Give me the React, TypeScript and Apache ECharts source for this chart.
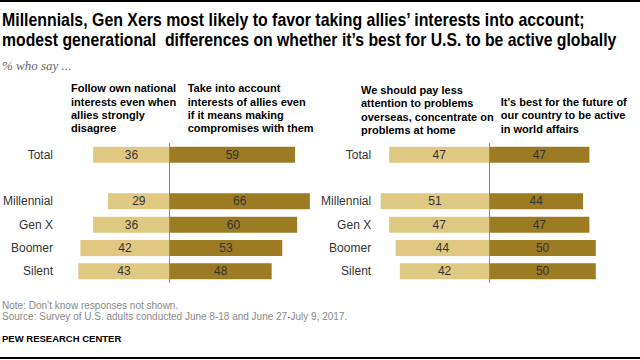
import React, { useEffect, useRef } from "react";
import * as echarts from "echarts";

const categories = ["Total", "", "Millennial", "Gen X", "Boomer", "Silent"];
const followOwn = [36, null, 29, 36, 42, 43];
const takeAllies = [59, null, 66, 60, 53, 48];
const payLess = [47, null, 51, 47, 44, 42];
const beActive = [47, null, 44, 47, 50, 50];

const titleLines = [
  "Millennials, Gen Xers most likely to favor taking allies’ interests into account;",
  "modest generational  differences on whether it’s best for U.S. to be active globally",
];

const LIGHT = "#DFC882";
const DARK = "#9C7B23";
const K = 2.13;

export default function App() {
  const ref = useRef<HTMLDivElement>(null);
  useEffect(() => {
    if (!ref.current) return;
    const chart = echarts.init(ref.current, undefined, { renderer: "svg" });
    const titleFont = "bold 18px 'Liberation Sans', Arial, sans-serif";
    const cv = document.createElement("canvas").getContext("2d");
    const measure = (t: string) => {
      if (!cv) return 700;
      cv.font = titleFont;
      return cv.measureText(t).width || 700;
    };
    const targets = [584, 615];
    const labelCfg = {
      show: true,
      position: "inside",
      color: "#333",
      fontSize: 12,
      fontFamily: "Arial, Liberation Sans, sans-serif",
      formatter: (p: any) => (p.value == null ? "" : String(Math.abs(p.value))),
    };
    const neg = (arr: (number | null)[]) => arr.map((v) => (v == null ? null : -v));
    const centerLine = {
      silent: true,
      symbol: "none",
      label: { show: false },
      lineStyle: { color: "#888", width: 1, type: "solid" },
      data: [{ xAxis: 0 }],
    };
    const yAxisBase = (gi: number, margin: number) => ({
      type: "category",
      gridIndex: gi,
      data: categories,
      inverse: true,
      axisLine: { show: false },
      axisTick: { show: false },
      axisLabel: {
        margin,
        color: "#333",
        fontSize: 12,
        fontFamily: "Arial, Liberation Sans, sans-serif",
      },
    });
    const xAxisBase = (gi: number, min: number, max: number) => ({
      type: "value",
      gridIndex: gi,
      min,
      max,
      show: false,
      splitLine: { show: false },
    });
    const hdrFont = "bold 11px Arial, Liberation Sans, sans-serif";
    const titleGraphics = titleLines.map((t, i) => ({
      type: "text",
      x: 2,
      y: 11 + i * 20,
      scaleX: targets[i] / measure(t),
      style: {
        text: t,
        font: titleFont,
        fill: "#000",
        textVerticalAlign: "top",
      },
    }));
    chart.setOption({
      animation: false,
      grid: [
        { left: 169.3 - 45 * K, width: 115 * K, top: 143, height: 140 },
        { left: 489.3 - 55 * K, width: 110 * K, top: 143, height: 140 },
      ],
      xAxis: [xAxisBase(0, -45, 70), xAxisBase(1, -55, 55)],
      yAxis: [yAxisBase(0, 21), yAxisBase(1, 1)],
      series: [
        {
          type: "bar",
          xAxisIndex: 0,
          yAxisIndex: 0,
          stack: "a",
          data: neg(followOwn),
          barWidth: 16,
          itemStyle: { color: LIGHT },
          label: labelCfg,
          markLine: centerLine,
        },
        {
          type: "bar",
          xAxisIndex: 0,
          yAxisIndex: 0,
          stack: "a",
          data: takeAllies,
          barWidth: 16,
          itemStyle: { color: DARK },
          label: labelCfg,
        },
        {
          type: "bar",
          xAxisIndex: 1,
          yAxisIndex: 1,
          stack: "b",
          data: neg(payLess),
          barWidth: 16,
          itemStyle: { color: LIGHT },
          label: labelCfg,
          markLine: centerLine,
        },
        {
          type: "bar",
          xAxisIndex: 1,
          yAxisIndex: 1,
          stack: "b",
          data: beActive,
          barWidth: 16,
          itemStyle: { color: DARK },
          label: labelCfg,
        },
      ],
      graphic: [
        { type: "rect", shape: { x: 0, y: 0, width: 640, height: 2 }, style: { fill: "#000" } },
        { type: "rect", shape: { x: 0, y: 357, width: 640, height: 2 }, style: { fill: "#000" } },
        ...titleGraphics,
        {
          type: "text",
          x: 2,
          y: 59,
          style: {
            text: "% who say ...",
            font: "italic 13px Georgia, 'Liberation Serif', 'DejaVu Serif', serif",
            fill: "#666",
            textVerticalAlign: "top",
          },
        },
        {
          type: "text",
          x: 71,
          y: 81.5,
          style: {
            text: "Follow own national\ninterests even when\nallies strongly\ndisagree",
            font: hdrFont,
            lineHeight: 13.4,
            fill: "#000",
            textVerticalAlign: "top",
          },
        },
        {
          type: "text",
          x: 187.7,
          y: 81.5,
          style: {
            text: "Take into account\ninterests of allies even\nif it means making\ncompromises with them",
            font: hdrFont,
            lineHeight: 13.4,
            fill: "#000",
            textVerticalAlign: "top",
          },
        },
        {
          type: "text",
          x: 361,
          y: 83.3,
          style: {
            text: "We should pay less\nattention to problems\noverseas, concentrate on\nproblems at home",
            font: hdrFont,
            lineHeight: 13.4,
            fill: "#000",
            textVerticalAlign: "top",
          },
        },
        {
          type: "text",
          x: 500.7,
          y: 95,
          style: {
            text: "It's best for the future of\nour country to be active\nin world affairs",
            font: hdrFont,
            lineHeight: 13.4,
            fill: "#000",
            textVerticalAlign: "top",
          },
        },
        {
          type: "text",
          x: 2,
          y: 300,
          style: {
            text: "Note: Don’t know responses not shown.\nSource: Survey of U.S. adults conducted June 8-18 and June 27-July 9, 2017.",
            font: "10px Arial, 'Liberation Sans', sans-serif",
            lineHeight: 11,
            fill: "#888",
            textVerticalAlign: "top",
          },
        },
        {
          type: "text",
          x: 2,
          y: 333,
          style: {
            text: "PEW RESEARCH CENTER",
            font: "bold 9.5px Arial, 'Liberation Sans', sans-serif",
            fill: "#000",
            textVerticalAlign: "top",
          },
        },
      ],
    });
    return () => chart.dispose();
  }, []);
  return <div ref={ref} style={{ width: 640, height: 360, position: "absolute", left: 0, top: 0 }} />;
}
